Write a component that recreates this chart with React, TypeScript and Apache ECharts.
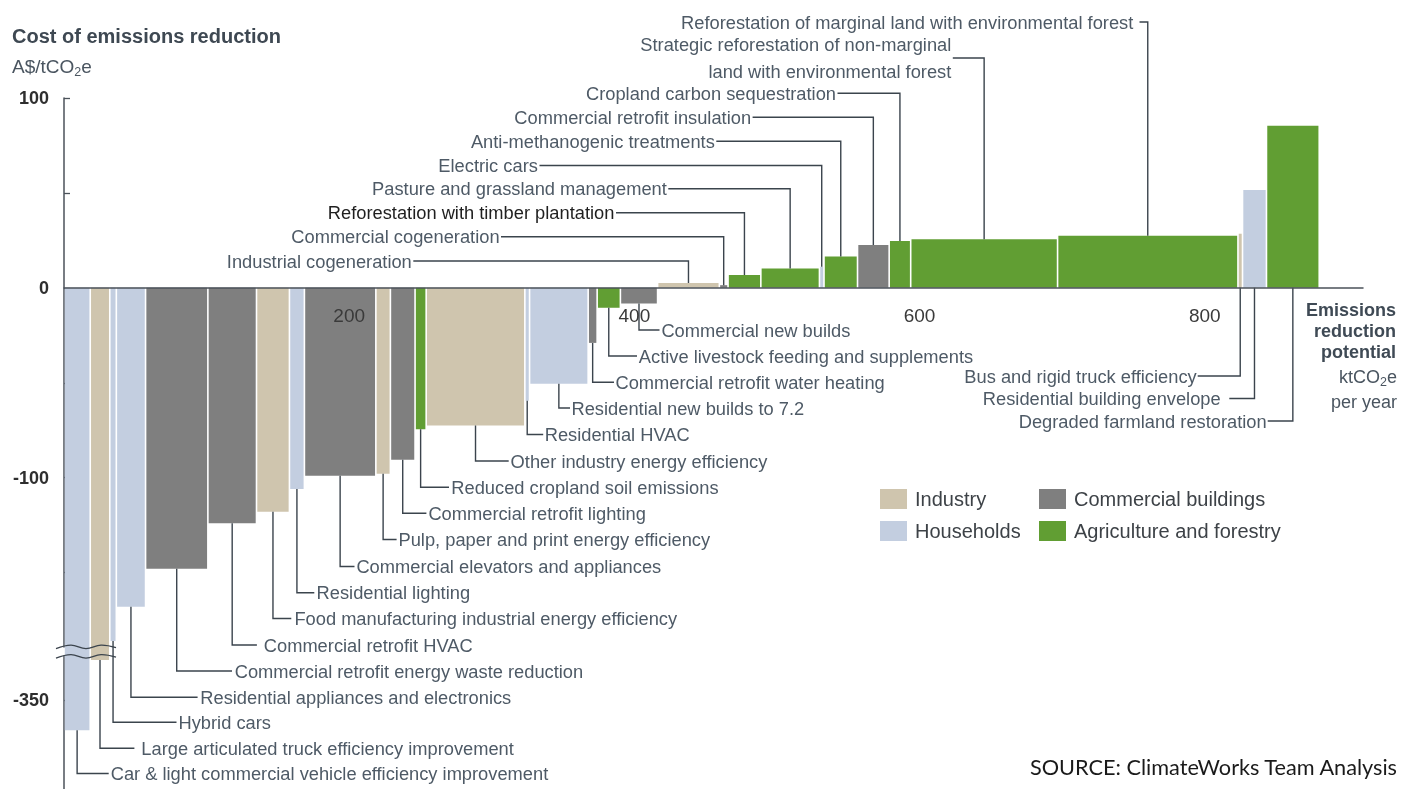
import React, { useEffect, useRef } from 'react';
import * as echarts from 'echarts';

// ---------- data ----------
const names = [
  'Car & light commercial vehicle efficiency improvement',
  'Large articulated truck efficiency improvement',
  'Hybrid cars',
  'Residential appliances and electronics',
  'Commercial retrofit energy waste reduction',
  'Commercial retrofit HVAC',
  'Food manufacturing industrial energy efficiency',
  'Residential lighting',
  'Commercial elevators and appliances',
  'Pulp, paper and print energy efficiency',
  'Commercial retrofit lighting',
  'Reduced cropland soil emissions',
  'Other industry energy efficiency',
  'Residential HVAC',
  'Residential new builds to 7.2',
  'Commercial retrofit water heating',
  'Active livestock feeding and supplements',
  'Commercial new builds',
  'Industrial cogeneration',
  'Commercial cogeneration',
  'Reforestation with timber plantation',
  'Pasture and grassland management',
  'Electric cars',
  'Anti-methanogenic treatments',
  'Commercial retrofit insulation',
  'Cropland carbon sequestration',
  'Strategic reforestation of non-marginal\nland with environmental forest',
  'Reforestation of marginal land with environmental forest',
  'Bus and rigid truck efficiency',
  'Residential building envelope',
  'Degraded farmland restoration',
];
// I = Industry, H = Households, C = Commercial buildings, A = Agriculture and forestry
const sectorOf = ['H','I','H','H','C','C','I','H','C','I','C','A','I','H','H','C','A','C','I','C','A','A','H','A','C','A','A','A','I','H','A'];
// emissions reduction potential (ktCO2e per year)
const potential = [18.4,13.7,4.6,20.5,43.7,34.1,23.1,10.5,50.1,10.2,17.3,7.8,69.2,3.3,41.1,6.3,16.3,26.1,43.3,6.1,23.0,41.1,3.2,23.5,22.2,15.1,103.0,126.5,3.2,16.8,37.0];
// cost of emissions reduction (A$/tCO2e)
const cost = [-366,-329,-186,-168,-148,-124,-118,-106,-99,-98,-90.5,-74.5,-72.5,-59.5,-50.5,-29,-10.5,-8.3,2.6,1.4,6.7,10.2,11.1,16.5,22.6,24.7,25.6,27.5,28.5,51.6,85.4];

const sectorKeys = ['I', 'H', 'C', 'A'];
const sectorNames = ['Industry', 'Households', 'Commercial buildings', 'Agriculture and forestry'];
const xTickLabels = [200, 400, 600, 800];
const yTickLabels = [100, 0, -100, -350];
const yTickMarks = [100, 50, 0, -50, -100, -150, -350];
const yBreak = { start: -327, end: -189, gap: 5 };

// ---------- layout (pixels) & styles ----------
const labelY = [773.5,748.3,722.3,697.3,671,645,618.5,592.7,566.5,539.5,513.3,487.3,461,434.5,408,382.3,356,330,
  261,236.7,212.7,188.7,165.5,141.3,117.3,93.3,58,22, 376,398.5,421];
const textX = [110.7,141.3,178.5,200.3,234.7,263.8,294.4,316.6,356.4,398.5,428.4,451.3,510.6,544.7,571.5,615.5,638.8,661.4,
  411.8,499.6,614.4,666.8,537.9,714.8,751.1,836,951.3,1133.3, 1196.7,1220.7,1266.7];
const lineX = [108.7,134.4,176.5,197.6,232,256.9,291.3,314.3,354.5,396.6,426.4,449,508.7,543.2,570,614,637,659.5,
  413.3,501,616,668.3,539.5,716.3,752.6,837.5,952.8,1139.5, 1197.7,1229.3,1267.7];
const darkLabels = [20];

const sectorColors = ['#cfc5ae', '#c3cee0', '#7f7f7f', '#619e33'];
const FONT = '"Liberation Sans", Arial, Helvetica, sans-serif';
const labelColor = '#4e5a66';
const leaderColor = '#3b444d';
const axisColor = '#4b525a';

export default function App() {
  const ref = useRef<HTMLDivElement>(null);

  useEffect(() => {
    if (!ref.current) return;
    const chart = echarts.init(ref.current, null, { renderer: 'svg' });

    let acc = 0;
    const items = names.map((_, i) => {
      const x0 = acc;
      acc += potential[i];
      return [x0, acc, cost[i], i];
    });

    const renderBar = (params: any, api: any) => {
      const x0 = api.value(0);
      const x1 = api.value(1);
      const v = api.value(2);
      const idx = api.value(3);
      const a = api.coord([x0, 0]);
      const b = api.coord([x1, v]);
      const left = a[0] + 0.8;
      const right = b[0] - 0.8;
      const top = Math.min(a[1], b[1]);
      const bottom = Math.max(a[1], b[1]);
      const cx = (a[0] + b[0]) / 2;
      const ly = labelY[idx];
      const tx = textX[idx];
      const lx = lineX[idx];
      const startY = ly > bottom ? bottom : top;
      return {
        type: 'group',
        children: [
          {
            type: 'rect',
            shape: { x: left, y: top, width: Math.max(right - left, 1), height: bottom - top },
            style: { fill: api.visual('color') },
          },
          {
            type: 'polyline',
            shape: { points: [[cx, startY], [cx, ly], [lx, ly]] },
            style: { stroke: leaderColor, lineWidth: 1.4, fill: null },
          },
          {
            type: 'text',
            style: {
              text: names[idx],
              x: tx,
              y: ly,
              align: tx > lx ? 'left' : 'right',
              verticalAlign: 'middle',
              fill: darkLabels.includes(idx) ? '#1f1f1f' : labelColor,
              fontSize: 18.3,
              fontFamily: FONT,
              lineHeight: 27.5,
            },
          },
        ],
      };
    };

    const legendBase = {
      orient: 'vertical',
      top: 489,
      padding: 0,
      itemWidth: 27,
      itemHeight: 20,
      itemGap: 12,
      icon: 'rect',
      selectedMode: false,
      textStyle: { fontSize: 20, color: '#3d4247', fontFamily: FONT, padding: [0, 0, 0, 3] },
    };

    chart.setOption({
      animation: false,
      textStyle: { fontFamily: FONT },
      grid: { left: 64, right: 38, top: 98, bottom: 0, outerBoundsMode: 'none' },
      xAxis: {
        type: 'value',
        min: 0,
        max: 911,
        z: 5,
        axisLine: { show: true, onZero: true, lineStyle: { color: axisColor, width: 1.5 } },
        axisTick: { show: false },
        axisLabel: { show: false },
        splitLine: { show: false },
      },
      yAxis: {
        type: 'value',
        min: -397,
        max: 100,
        breaks: [yBreak],
        breakArea: { show: false, itemStyle: { color: 'rgba(0,0,0,0)', borderWidth: 0 } },
        axisLine: { show: true, lineStyle: { color: axisColor, width: 1.5 } },
        axisTick: { show: true, inside: true, length: 6, customValues: yTickMarks, lineStyle: { color: axisColor, width: 1.3 } },
        axisLabel: { customValues: yTickLabels, margin: 15, fontSize: 18, fontWeight: 'bold', color: '#2e2e2e', fontFamily: FONT },
        splitLine: { show: false },
      },
      legend: [
        { ...legendBase, left: 880, data: ['Industry', 'Households'] },
        { ...legendBase, left: 1039, data: ['Commercial buildings', 'Agriculture and forestry'] },
      ],
      series: sectorKeys.map((k, si) => ({
        type: 'custom',
        name: sectorNames[si],
        clip: false,
        itemStyle: { color: sectorColors[si] },
        encode: { x: [0, 1], y: 2 },
        data: items.filter((it) => sectorOf[it[3]] === k),
        renderItem: renderBar,
      })),
    });

    const yHi = chart.convertToPixel({ yAxisIndex: 0 }, yBreak.end) as number;
    const yLo = chart.convertToPixel({ yAxisIndex: 0 }, yBreak.start) as number;
    const yZero = chart.convertToPixel({ yAxisIndex: 0 }, 0) as number;
    const zig = (y: number) => [[56, y + 2], [71, y - 1.5], [86, y + 2], [101, y - 1.5], [116, y + 1]];

    const xLabels = xTickLabels.map((v) => ({
      type: 'text',
      x: chart.convertToPixel({ xAxisIndex: 0 }, v) as number,
      y: yZero + 28,
      z: 50,
      style: { text: String(v), fontSize: 19, fill: '#3a3a3a', fontFamily: FONT, align: 'center', verticalAlign: 'middle' },
    }));

    chart.setOption({
      graphic: [
        ...xLabels,
        {
          type: 'text', x: 12, y: 36,
          style: { text: 'Cost of emissions reduction', fontSize: 20, fontWeight: 'bold', fill: '#3e4852', fontFamily: FONT, align: 'left', verticalAlign: 'middle' },
        },
        {
          type: 'text', x: 12, y: 66,
          style: {
            text: '{a|A$/tCO}{s|2}{a|e}', align: 'left', verticalAlign: 'middle', fontFamily: FONT,
            rich: {
              a: { fontSize: 19, lineHeight: 24, fill: '#4a5560', fontFamily: FONT },
              s: { fontSize: 12.5, lineHeight: 13, verticalAlign: 'bottom', fill: '#4a5560', fontFamily: FONT },
            },
          },
        },
        {
          type: 'text', x: 1396, y: 331,
          style: { text: 'Emissions\nreduction\npotential', fontSize: 18, fontWeight: 'bold', lineHeight: 21, fill: '#3f4a55', fontFamily: FONT, align: 'right', verticalAlign: 'middle' },
        },
        {
          type: 'text', x: 1397, y: 377,
          style: {
            text: '{a|ktCO}{s|2}{a|e}', align: 'right', verticalAlign: 'middle', fontFamily: FONT,
            rich: {
              a: { fontSize: 18, lineHeight: 22, fill: '#4a5560', fontFamily: FONT },
              s: { fontSize: 12.5, lineHeight: 12, verticalAlign: 'bottom', fill: '#4a5560', fontFamily: FONT },
            },
          },
        },
        {
          type: 'text', x: 1397, y: 402,
          style: { text: 'per year', fontSize: 18, fill: '#4a5560', fontFamily: FONT, align: 'right', verticalAlign: 'middle' },
        },
        {
          type: 'text', x: 1397, y: 767,
          style: { text: 'SOURCE: ClimateWorks Team Analysis', fontSize: 21.7, fill: '#1a1a1a', fontFamily: 'Lato, "Open Sans", sans-serif', align: 'right', verticalAlign: 'middle' },
        },
        {
          type: 'polyline', z: 100,
          shape: { points: zig(yHi), smooth: 0.4 },
          style: { stroke: '#3b444d', lineWidth: 1.3, fill: null },
        },
        {
          type: 'polyline', z: 100,
          shape: { points: zig(yLo), smooth: 0.4 },
          style: { stroke: '#3b444d', lineWidth: 1.3, fill: null },
        },
      ],
    });

    return () => chart.dispose();
  }, []);

  return <div ref={ref} style={{ position: 'fixed', left: 0, top: 0, width: 1401, height: 789 }} />;
}
